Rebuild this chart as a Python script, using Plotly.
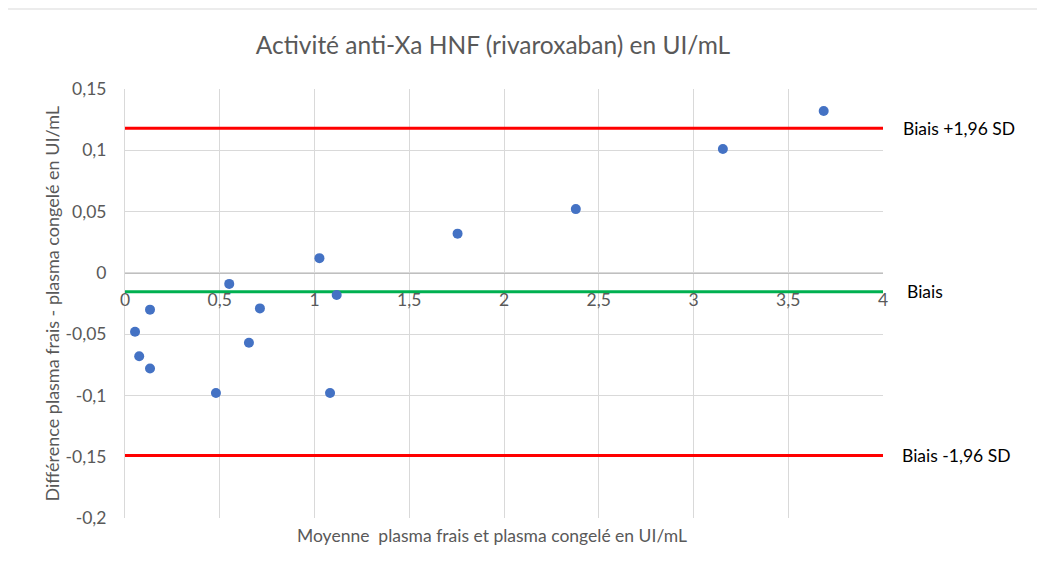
import plotly.graph_objects as go

# Data
moyenne = [0.053, 0.075, 0.132, 0.132, 0.480, 0.550, 0.654, 0.712, 1.026, 1.082, 1.117, 1.755, 2.379, 3.155, 3.687]
difference = [-0.048, -0.068, -0.030, -0.078, -0.098, -0.009, -0.057, -0.029, 0.012, -0.098, -0.018, 0.032, 0.052, 0.101, 0.132]
biais = -0.0155
biais_sup = 0.118
biais_inf = -0.149
ligne_x = [0, 4]

x_tickvals = [0, 0.5, 1, 1.5, 2, 2.5, 3, 3.5, 4]
x_ticktext = ["0", "0,5", "1", "1,5", "2", "2,5", "3", "3,5", "4"]
y_tickvals = [0.15, 0.1, 0.05, 0, -0.05, -0.1, -0.15, -0.2]
y_ticktext = ["0,15", "0,1", "0,05", "0", "-0,05", "-0,1", "-0,15", "-0,2"]

FONT = "Lato"
GRAY = "#595959"
OFF = 8  # page body margin offset

fig = go.Figure()
fig.add_trace(go.Scatter(x=ligne_x, y=[biais_sup, biais_sup], mode="lines",
                         line=dict(color="#ff0000", width=3), showlegend=False))
fig.add_trace(go.Scatter(x=ligne_x, y=[biais_inf, biais_inf], mode="lines",
                         line=dict(color="#ff0000", width=3), showlegend=False))
fig.add_trace(go.Scatter(x=ligne_x, y=[biais, biais], mode="lines",
                         line=dict(color="#00b050", width=3), showlegend=False))
fig.add_trace(go.Scatter(x=moyenne, y=difference, mode="markers",
                         marker=dict(color="#4472c4", size=10), showlegend=False))

zero_pos = (0 - (-0.2)) / (0.15 - (-0.2))

fig.update_layout(
    width=1045, height=568,
    margin=dict(l=125 - OFF, r=162 + OFF, t=89 - OFF, b=50 + OFF),
    paper_bgcolor="white", plot_bgcolor="white",
    font=dict(family=FONT, color=GRAY, size=17),
    title=dict(text="Activité anti-Xa HNF (rivaroxaban) en UI/mL",
               font=dict(family=FONT, size=24.5, color=GRAY),
               xref="container", x=(493 - OFF) / 1045, xanchor="center",
               yref="container", y=1 - (45 - OFF) / 568, yanchor="middle"),
    xaxis=dict(range=[0, 4], tickvals=x_tickvals, ticktext=x_ticktext,
               showgrid=True, gridcolor="#d9d9d9", gridwidth=1,
               zeroline=False, showline=True, linecolor="#bfbfbf", linewidth=1,
               anchor="free", position=zero_pos, ticks="",
               ticklabelstandoff=11,
               tickfont=dict(family=FONT, size=17.5, color=GRAY)),
    yaxis=dict(range=[-0.2, 0.15], tickvals=y_tickvals, ticktext=y_ticktext,
               showgrid=True, gridcolor="#d9d9d9", gridwidth=1,
               zeroline=False, showline=True, linecolor="#d9d9d9", linewidth=1,
               ticks="", ticklabelstandoff=14,
               tickfont=dict(family=FONT, size=17.5, color=GRAY)),
)

# Axis titles
fig.add_annotation(text="Différence plasma frais - plasma congelé en UI/mL",
                   xref="paper", yref="paper", x=(51 - 125) / 758, y=0.5,
                   textangle=-90, showarrow=False, xanchor="center", yanchor="middle",
                   font=dict(family=FONT, size=18, color=GRAY))
fig.add_annotation(text="Moyenne  plasma frais et plasma congelé en UI/mL",
                   xref="paper", yref="paper", x=(491.7 - 125) / 758, y=(518 - 535) / 429,
                   showarrow=False, xanchor="center", yanchor="middle",
                   font=dict(family=FONT, size=17.5, color=GRAY))

# Line labels
for txt, yv, shift in [("Biais +1,96 SD", biais_sup, 18), ("Biais", biais, 22), ("Biais -1,96 SD", biais_inf, 17)]:
    fig.add_annotation(text=txt, xref="x", yref="y", x=4, y=yv, xshift=shift,
                       xanchor="left", yanchor="middle", showarrow=False,
                       font=dict(family=FONT, size=17.5, color="black"))

# Outer chart border
fig.add_shape(type="rect", xref="paper", yref="paper",
              x0=(6 - 125) / 758, x1=(1050 - 125) / 758,
              y0=(518 - 575) / 429, y1=(518 - 9) / 429,
              line=dict(color="#d9d9d9", width=1), fillcolor="rgba(0,0,0,0)", layer="below")

fig.write_html("out.html")
